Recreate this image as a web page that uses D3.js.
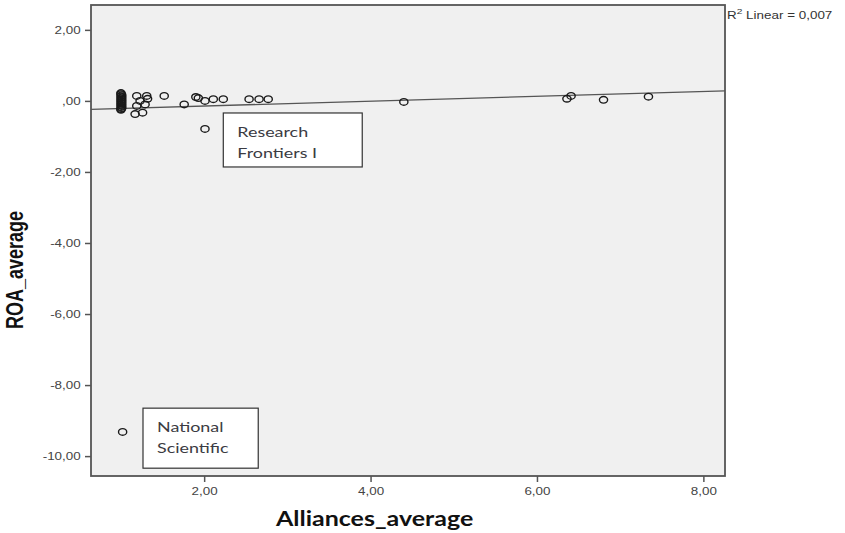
<!DOCTYPE html>
<html>
<head>
<meta charset="utf-8">
<script src="https://cdn.jsdelivr.net/npm/d3@7"></script>
<style>
  body { margin: 0; background: #fff; }
  svg { display: block; }
</style>
</head>
<body>
<div id="chart"></div>
<script>
var WIDTH = 845,
    HEIGHT = 533;

// frame of the plot area (pixels)
var frame = {left: 91, right: 725, top: 5, bottom: 476};

// scatter values
var allianceAvg = [1.0, 1.0, 1.01, 1.0, 1.01, 1.0, 1.01, 1.0, 1.01, 1.0, 1.01, 1.0, 1.01, 1.0, 1.01, 1.0, 1.0,
                   1.19, 1.31, 1.32, 1.23, 1.19, 1.29, 1.17, 1.26,
                   1.52, 1.76, 1.9, 1.93, 2.01, 2.11, 2.23, 2.54, 2.66, 2.77, 2.01,
                   4.4, 6.36, 6.41, 6.8, 7.34, 1.02];
var roaAvg = [0.22, 0.19, 0.16, 0.13, 0.1, 0.07, 0.04, 0.01, -0.02, -0.05, -0.08, -0.11, -0.14, -0.17, -0.2, -0.23, -0.25,
              0.14, 0.14, 0.06, 0.0, -0.14, -0.1, -0.37, -0.33,
              0.14, -0.1, 0.11, 0.08, 0.0, 0.05, 0.05, 0.05, 0.05, 0.05, -0.79,
              -0.03, 0.06, 0.14, 0.03, 0.12, -9.32];

// linear fit shown in the chart
var fitIntercept = -0.28,
    fitSlope = 0.068,
    rSquared = '0,007';

var xTicks = [2, 4, 6, 8],
    yTicks = [2, 0, -2, -4, -6, -8, -10];

var annotations = [
  {lines: ['Research', 'Frontiers I'], x0: 2.23, x1: 3.9, y0: -0.34, y1: -1.86},
  {lines: ['National', 'Scientific'], x0: 1.265, x1: 2.65, y0: -8.65, y1: -10.34}
];

// tick format like SPSS: 2,00  ,00  -2,00
var fmt = v => {
  var s = d3.format('.2f')(Math.abs(v)).replace('.', ',');
  if (s.startsWith('0,')) s = s.slice(1);
  return (v < 0 ? '-' : '') + s;
};

// the source picture is stretched sideways, text follows it
var STRETCH = 'scale(1.28,1)';

var svg = d3.select('#chart').append('svg')
            .attr('width', WIDTH)
            .attr('height', HEIGHT);

var x = d3.scaleLinear().domain([0.64, 8.26]).range([frame.left, frame.right]),
    y = d3.scaleLinear().domain([-10.56, 2.7]).range([frame.bottom, frame.top]);

svg.append('rect')
   .attr('x', frame.left)
   .attr('y', frame.top)
   .attr('width', frame.right - frame.left)
   .attr('height', frame.bottom - frame.top)
   .attr('fill', '#f0f0f0');

// axes
var yAxis = svg.append('g')
   .attr('transform', `translate(${frame.left},0)`)
   .call(d3.axisLeft(y).tickValues(yTicks).tickFormat(fmt).tickSize(6).tickSizeOuter(0));

var xAxis = svg.append('g')
   .attr('transform', `translate(0,${frame.bottom})`)
   .call(d3.axisBottom(x).tickValues(xTicks).tickFormat(fmt).tickSize(6).tickSizeOuter(0));

[xAxis, yAxis].forEach(ax => {
  ax.select('.domain').remove();
  ax.selectAll('line').attr('stroke', '#555').attr('stroke-width', 1.5);
  ax.selectAll('text')
    .attr('fill', '#444')
    .style('font-family', '"Liberation Sans", Arial, sans-serif')
    .style('font-size', '10.5px')
    .attr('transform', STRETCH);
});
yAxis.selectAll('text').attr('x', -8);
xAxis.selectAll('text').attr('y', 12);

// fit line
var fitLine = d3.line().x(d => x(d)).y(d => y(fitIntercept + fitSlope * d));
svg.append('path')
   .datum(x.domain())
   .attr('d', fitLine)
   .attr('fill', 'none')
   .attr('stroke', '#555')
   .attr('stroke-width', 1.3);

// points
svg.append('g').selectAll('ellipse')
   .data(allianceAvg)
   .enter()
   .append('ellipse')
   .attr('cx', d => x(d))
   .attr('cy', (d, i) => y(roaAvg[i]))
   .attr('rx', 4.1)
   .attr('ry', 3.3)
   .attr('fill', 'none')
   .attr('stroke', '#1a1a1a')
   .attr('stroke-width', 1.4);

// annotation boxes
annotations.forEach(a => {
  var g = svg.append('g');
  g.append('rect')
   .attr('x', x(a.x0))
   .attr('y', y(a.y0))
   .attr('width', x(a.x1) - x(a.x0))
   .attr('height', y(a.y1) - y(a.y0))
   .attr('fill', '#fff')
   .attr('stroke', '#333')
   .attr('stroke-width', 1.2);
  a.lines.forEach((t, i) => {
    g.append('text')
     .attr('transform', `translate(${x(a.x0) + 14},${y(a.y0) + 24 + i * 21}) ${STRETCH}`)
     .attr('fill', '#3b3b42')
     .style('font-family', 'Lato, "Open Sans", sans-serif')
     .style('font-size', '14px')
     .text(t);
  });
});

// frame on top
svg.append('rect')
   .attr('x', frame.left)
   .attr('y', frame.top)
   .attr('width', frame.right - frame.left)
   .attr('height', frame.bottom - frame.top)
   .attr('fill', 'none')
   .attr('stroke', '#555')
   .attr('stroke-width', 1.8);

// R squared label
var r2 = svg.append('text')
   .attr('transform', `translate(${frame.right + 2},19) ${STRETCH}`)
   .attr('fill', '#333')
   .style('font-family', '"Liberation Sans", Arial, sans-serif')
   .style('font-size', '10.5px');
r2.append('tspan').text('R');
r2.append('tspan').attr('dy', -5).style('font-size', '8px').text('2');
r2.append('tspan').attr('dy', 5).text(' Linear = ' + rSquared);

// axis titles
svg.append('text')
   .attr('transform', `translate(${x(4) + 4},526) scale(1.19,1)`)
   .attr('text-anchor', 'middle')
   .attr('fill', '#111')
   .style('font-family', 'Lato, "Open Sans", sans-serif')
   .style('font-weight', 'bold')
   .style('font-size', '21px')
   .text('Alliances_average');

svg.append('text')
   .attr('transform', `translate(23,270) rotate(-90) scale(1,1.28)`)
   .attr('text-anchor', 'middle')
   .attr('fill', '#111')
   .style('font-family', '"Liberation Sans", Arial, sans-serif')
   .style('font-weight', 'bold')
   .style('font-size', '18px')
   .text('ROA_average');
</script>
</body>
</html>
